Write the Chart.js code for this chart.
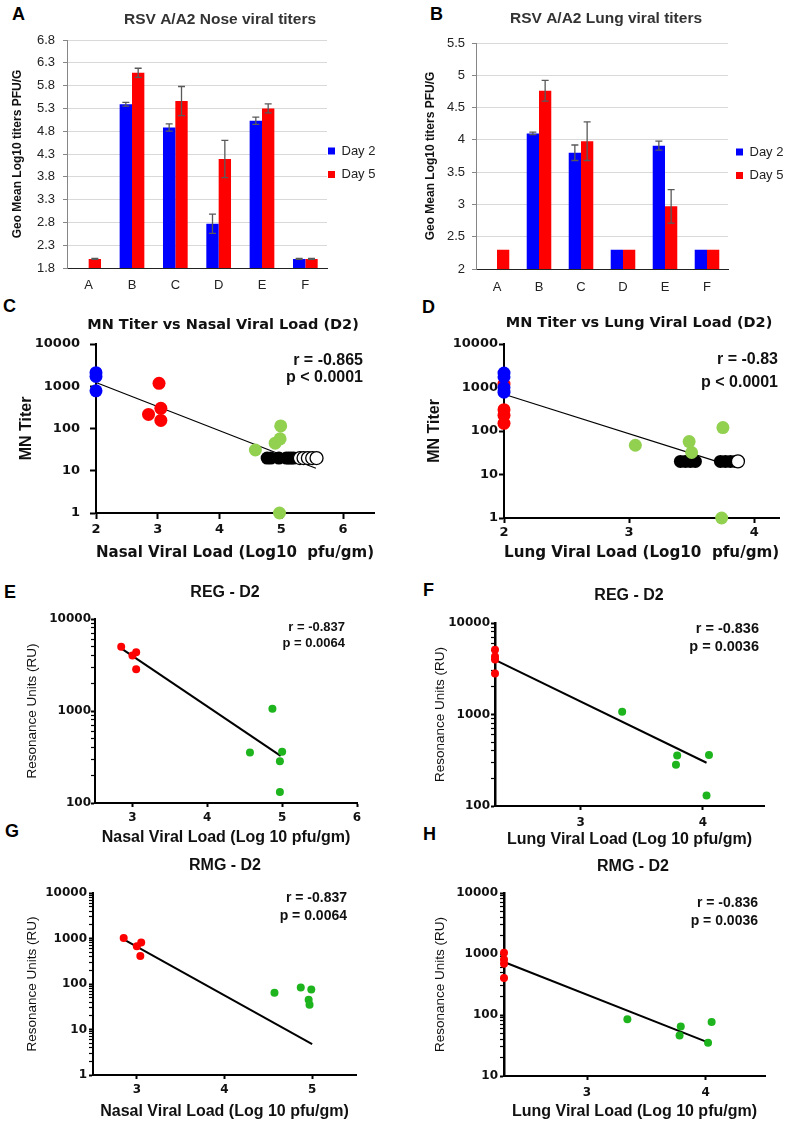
<!DOCTYPE html>
<html>
<head>
<meta charset="utf-8">
<script src="https://cdn.jsdelivr.net/npm/chart.js@4.4.0/dist/chart.umd.min.js"></script>
<style>
  body { margin: 0; background: #fff; width: 787px; height: 1122px; position: relative; overflow: hidden; }
  canvas { position: absolute; }
  .lbl { position: absolute; font: bold 18px "Liberation Sans", Arial, sans-serif; line-height: 1; color: #000; }
</style>
</head>
<body>
<div class="lbl" style="left:12px;top:5px">A</div>
<div class="lbl" style="left:430px;top:5px">B</div>
<div class="lbl" style="left:3px;top:297px">C</div>
<div class="lbl" style="left:422px;top:298px">D</div>
<div class="lbl" style="left:4px;top:583px">E</div>
<div class="lbl" style="left:423px;top:581px">F</div>
<div class="lbl" style="left:5px;top:822px">G</div>
<div class="lbl" style="left:423px;top:825px">H</div>

<canvas id="cA"></canvas>
<canvas id="cB"></canvas>
<canvas id="cC"></canvas>
<canvas id="cD"></canvas>
<canvas id="cE"></canvas>
<canvas id="cF"></canvas>
<canvas id="cG"></canvas>
<canvas id="cH"></canvas>

<script>
// ---- bar panels (A, B) ----
const groups = ['A', 'B', 'C', 'D', 'E', 'F'];
const noseDay2 = [null, 5.39, 4.88, 2.77, 5.03, 2.0];
const noseDay5 = [2.0, 6.08, 5.46, 4.19, 5.3, 2.0];
const noseDay2Err = [0, 0.04, 0.08, 0.21, 0.08, 0.01];
const noseDay5Err = [0.01, 0.1, 0.32, 0.41, 0.1, 0.01];
const lungDay2 = [null, 4.1, 3.8, 2.3, 3.91, 2.3];
const lungDay5 = [2.3, 4.76, 3.98, 2.3, 2.97, 2.3];
const lungDay2Err = [0, 0.02, 0.12, 0, 0.07, 0];
const lungDay5Err = [0, 0.16, 0.3, 0, 0.26, 0];

// ---- C: MN titer vs nasal viral load ----
const cBlueX = [2, 2, 2];
const cBlueY = [2100, 1700, 780];
const cRedX = [2.85, 3.02, 3.05, 3.05];
const cRedY = [215, 1170, 300, 155];
const cGreenX = [4.58, 4.9, 4.98, 4.99, 4.97];
const cGreenY = [31, 45, 57, 115, 1];
const cBlackX = [4.77, 4.83, 4.96, 5.08, 5.12, 5.16, 5.2];
const cBlackY = [20, 20, 20, 20, 20, 20, 20];
const cOpenX = [5.3, 5.36, 5.43, 5.5, 5.57];
const cOpenY = [20, 20, 20, 20, 20];
const cFitX = [2, 5.56];
const cFitY = [1230, 11.5];

// ---- D: MN titer vs lung viral load ----
const dBlueX = [2, 2, 2, 2];
const dBlueY = [2150, 1750, 1000, 780];
const dRedX = [2, 2, 2, 2];
const dRedY = [1200, 310, 230, 150];
const dGreenX = [3.05, 3.48, 3.5, 3.75, 3.74];
const dGreenY = [47, 57, 32, 120, 1];
const dBlackX = [3.41, 3.45, 3.49, 3.53, 3.73, 3.77, 3.81, 3.85];
const dBlackY = [20, 20, 20, 20, 20, 20, 20, 20];
const dOpenX = [3.87];
const dOpenY = [20];
const dFitX = [2, 3.75];
const dFitY = [700, 18];

// ---- E/F: REG - D2 ----
const eRedX = [2.85, 3.0, 3.05, 3.05];
const eRedY = [5000, 4000, 4350, 2850];
const eGreenX = [4.57, 4.87, 4.97, 5.0, 4.97];
const eGreenY = [355, 1060, 285, 360, 132];
const eFitX = [2.85, 4.98];
const eFitY = [4800, 325];

const fRedX = [2.3, 2.3, 2.3, 2.3];
const fRedY = [5100, 4300, 4000, 2800];
const fGreenX = [3.34, 3.79, 3.78, 4.05, 4.03];
const fGreenY = [1070, 356, 283, 360, 130];
const fFitX = [2.3, 4.03];
const fFitY = [3950, 297];

// ---- G/H: RMG - D2 ----
const gRedX = [2.85, 3.0, 3.05, 3.04];
const gRedY = [1030, 675, 815, 410];
const gGreenX = [4.57, 4.87, 4.99, 4.96, 4.97];
const gGreenY = [64, 84, 76, 45, 35];
const gFitX = [2.85, 5.0];
const gFitY = [960, 4.8];

const hRedX = [2.3, 2.3, 2.3, 2.3];
const hRedY = [1050, 810, 690, 405];
const hGreenX = [3.34, 3.79, 3.78, 4.05, 4.02];
const hGreenY = [85, 65, 46, 77, 35];
const hFitX = [2.3, 4.03];
const hFitY = [740, 35];

// tick values
const ticksC = [1, 10, 100, 1000, 10000];
const ticksE = [100, 1000, 10000];
const ticksH = [10, 100, 1000, 10000];
const xTicksC = [2, 3, 4, 5, 6];
const xTicksD = [2, 3, 4];
const xTicksE = [3, 4, 5, 6];
const xTicksF = [3, 4];
const xTicksG = [3, 4, 5];

const ARIAL = '"Liberation Sans", Arial, sans-serif';
const DEJAVU = '"DejaVu Sans", sans-serif';
const BLUE = '#0000ff', RED = '#ff0000';
const LGREEN = '#92d050', GREEN = '#1db41d';

// moves the title / legend to where the original has them
const nudge = {
  id: 'nudge',
  beforeLayout(chart, args, o) {
    const lg = chart.legend;
    if (lg && o.legendW && !lg._fixedW) {
      const fit = lg.fit;
      lg.fit = function () { fit.call(this); this.width = o.legendW; };
      lg._fixedW = true;
    }
  },
  afterLayout(chart, args, o) {
    const t = chart.titleBlock;
    if (t && o.titleX != null) {
      const dx = o.titleX - (t.left + t.right) / 2;
      t.left += dx; t.right += dx;
    }
    const lg = chart.legend;
    if (lg && o.legendX != null) {
      const p = lg.options.labels.padding;
      const h = lg.bottom - lg.top;
      lg.left = o.legendX - p; lg.right = lg.left + 90;
      lg.top = o.legendY - p; lg.bottom = lg.top + h;
    }
  }
};

const errorBars = {
  id: 'errorBars',
  afterDatasetsDraw(chart, args, o) {
    if (!o.errors) return;
    const ctx = chart.ctx, y = chart.scales.y;
    ctx.save();
    ctx.strokeStyle = '#595959';
    ctx.lineWidth = 1.3;
    o.errors.forEach((errs, di) => {
      const meta = chart.getDatasetMeta(di);
      meta.data.forEach((bar, i) => {
        const v = chart.data.datasets[di].data[i];
        const e = errs[i];
        if (v == null || !e) return;
        const y1 = y.getPixelForValue(v + e), y2 = y.getPixelForValue(v - e);
        ctx.beginPath();
        ctx.moveTo(bar.x, y1); ctx.lineTo(bar.x, y2);
        ctx.moveTo(bar.x - 3.5, y1); ctx.lineTo(bar.x + 3.5, y1);
        ctx.moveTo(bar.x - 3.5, y2); ctx.lineTo(bar.x + 3.5, y2);
        ctx.stroke();
      });
    });
    ctx.restore();
  }
};

const statText = {
  id: 'statText',
  afterDraw(chart, args, o) {
    if (!o.lines) return;
    const ctx = chart.ctx;
    ctx.save();
    ctx.font = o.font;
    ctx.fillStyle = o.color || '#111';
    ctx.textAlign = 'right';
    ctx.textBaseline = 'middle';
    o.lines.forEach((t, i) => ctx.fillText(t, o.x, o.y[i]));
    ctx.restore();
  }
};

Chart.register(nudge, errorBars, statText);

function place(id, box) {
  const c = document.getElementById(id);
  c.width = box.w;
  c.height = box.h;
  c.style.left = box.x + 'px';
  c.style.top = box.y + 'px';
  return c;
}

function pts(xs, ys) {
  return xs.map((x, i) => ({ x: x, y: ys[i] }));
}

// decade ticks plus the 2..9 minor ticks in between
function logTicks(min, max, withMinor) {
  const out = [];
  for (let d = min; d <= max; d *= 10) {
    out.push(d);
    if (withMinor && d < max) for (let k = 2; k <= 9; k++) out.push(d * k);
  }
  return out;
}

function barPanel(id, s) {
  const b = s.box, a = s.area;
  const tl = s.titleSize * 1.2;
  new Chart(place(id, b), {
    type: 'bar',
    data: {
      labels: groups,
      datasets: [
        { label: 'Day 2', data: s.d2, backgroundColor: BLUE },
        { label: 'Day 5', data: s.d5, backgroundColor: RED }
      ]
    },
    options: {
      responsive: false,
      animation: false,
      layout: { padding: { left: 0, top: 0, bottom: 0, right: b.x + b.w - a.r - 50 } },
      datasets: { bar: { categoryPercentage: s.cat, barPercentage: 1 } },
      plugins: {
        tooltip: { enabled: false },
        title: {
          display: true, text: s.title, color: '#333',
          font: { family: ARIAL, size: s.titleSize, weight: 'bold' },
          padding: { top: s.titleY - b.y - tl / 2, bottom: a.t - s.titleY - tl / 2 }
        },
        legend: {
          position: 'right', align: 'start',
          labels: { boxWidth: 7, boxHeight: 7, padding: 10.5, color: '#222', textAlign: 'left',
                    font: { family: ARIAL, size: 13 } }
        },
        nudge: { titleX: s.titleX - b.x, legendW: 50, legendX: s.legX - b.x, legendY: s.legY - b.y - 6.5 },
        errorBars: { errors: [s.e2, s.e5] }
      },
      scales: {
        x: {
          grid: { display: false, drawTicks: false },
          border: { color: '#222', width: 1 },
          ticks: { color: '#222', font: { family: ARIAL, size: 13 }, padding: s.xLabY - a.b - 7.8 },
          afterFit: sc => { sc.height = b.y + b.h - a.b; sc.paddingLeft = 0; sc.paddingRight = 0; }
        },
        y: {
          min: s.min, max: s.max,
          grid: { color: '#d9d9d9', tickLength: 4, tickColor: '#868686' },
          border: { color: '#868686', width: 1 },
          ticks: { stepSize: 0.5, color: '#222', font: { family: ARIAL, size: 13 },
                   padding: a.l - b.x - 4 - (s.yLabR - b.x), callback: s.fmt },
          title: { display: true, text: 'Geo Mean Log10 titers PFU/G', color: '#111',
                   font: { family: ARIAL, size: 12, weight: 'bold' },
                   padding: { top: s.yTitleX - b.x - 7.2, bottom: 0 } },
          afterFit: sc => { sc.width = a.l - b.x; sc.paddingTop = 0; sc.paddingBottom = 0; }
        }
      }
    }
  });
}

function scatterPanel(id, s) {
  const b = s.box, a = s.area;
  const tl = s.titleFont.size * 1.2;
  const yl = s.yTitleFont.size * 1.2;
  const xl = s.xTitleFont.size * 1.2;
  const kl = s.tickFont.size * 1.2;
  const yMarks = logTicks(s.yMin, s.yMax, s.minor);
  new Chart(place(id, b), {
    type: 'scatter',
    data: { datasets: s.datasets },
    options: {
      responsive: false,
      animation: false,
      layout: { padding: { left: 0, top: 0, bottom: 0, right: b.x + b.w - a.r } },
      plugins: {
        legend: { display: false },
        tooltip: { enabled: false },
        title: {
          display: true, text: s.title, color: '#111', font: s.titleFont,
          padding: { top: s.titleY - b.y - tl / 2, bottom: a.t - s.titleY - tl / 2 }
        },
        nudge: { titleX: s.titleX - b.x },
        statText: { lines: s.stats, font: s.statFont, x: s.statX - b.x, y: s.statY.map(v => v - b.y) }
      },
      scales: {
        x: {
          type: 'linear', min: s.xMin, max: s.xMax,
          afterBuildTicks: sc => { sc.ticks = s.xTicks.map(v => ({ value: v })); },
          afterFit: sc => { sc.height = b.y + b.h - a.b; sc.paddingLeft = 0; sc.paddingRight = 0; },
          border: { color: '#000', width: 2 },
          grid: { display: true, drawOnChartArea: false, tickLength: s.tick, tickColor: '#000', tickWidth: 2 },
          ticks: { color: '#111', font: s.tickFont, padding: s.xLabY - a.b - s.tick - kl / 2,
                   maxRotation: 0, autoSkip: false, callback: v => String(v) },
          title: { display: true, text: s.xTitle, color: '#111', font: s.xTitleFont,
                   padding: { top: 0, bottom: b.y + b.h - s.xTitleY - xl / 2 } }
        },
        y: {
          type: 'logarithmic', min: s.yMin, max: s.yMax,
          afterBuildTicks: sc => { sc.ticks = yMarks.map(v => ({ value: v })); },
          afterFit: sc => { sc.width = a.l - b.x; sc.paddingTop = 0; sc.paddingBottom = 0; },
          border: { color: '#000', width: s.yBorder || 2 },
          grid: { display: true, drawOnChartArea: false, tickLength: s.tick, tickColor: '#000',
                  tickWidth: c => (s.yTicks.includes(c.tick.value) ? 2 : 1.2) },
          ticks: { color: '#111', font: s.tickFont, padding: a.l - s.tick - s.yLabR,
                   autoSkip: false, callback: v => (s.yTicks.includes(v) ? String(v) : '') },
          title: { display: true, text: s.yTitle, color: '#111', font: s.yTitleFont,
                   padding: { top: s.yTitleX - b.x - yl / 2, bottom: 0 } }
        }
      }
    }
  });
}

function dots(xs, ys, color, r, order) {
  return { data: pts(xs, ys), backgroundColor: color, borderColor: color, borderWidth: 0,
           pointRadius: r, pointHoverRadius: r, clip: false, order: order };
}
function openDots(xs, ys, r) {
  return { data: pts(xs, ys), backgroundColor: '#fff', borderColor: '#000', borderWidth: 1.3,
           pointRadius: r, pointHoverRadius: r, clip: false, order: 3 };
}
function fitLine(xs, ys, w) {
  return { data: pts(xs, ys), showLine: true, pointRadius: 0, borderColor: '#000',
           borderWidth: w, clip: false, order: 9 };
}

const oneDec = v => v.toFixed(1);
const trim = v => String(+v.toFixed(2));

barPanel('cA', {
  box: { x: 0, y: 0, w: 393, h: 298 }, area: { l: 67, r: 327, t: 40, b: 268 },
  title: 'RSV A/A2 Nose viral titers', titleSize: 15.5, titleX: 220, titleY: 20,
  d2: noseDay2, d5: noseDay5, e2: noseDay2Err, e5: noseDay5Err,
  min: 1.8, max: 6.8, fmt: oneDec, cat: 0.57,
  yLabR: 55, yTitleX: 18, xLabY: 285, legX: 328, legY: 151
});

barPanel('cB', {
  box: { x: 393, y: 0, w: 400, h: 298 }, area: { l: 476, r: 728, t: 43, b: 269 },
  title: 'RSV A/A2 Lung viral titers', titleSize: 15.5, titleX: 606, titleY: 19,
  d2: lungDay2, d5: lungDay5, e2: lungDay2Err, e5: lungDay5Err,
  min: 2, max: 5.5, fmt: trim, cat: 0.585,
  yLabR: 465, yTitleX: 431, xLabY: 287, legX: 736, legY: 152
});

scatterPanel('cC', {
  box: { x: 0, y: 298, w: 393, h: 270 }, area: { l: 96, r: 374, t: 344, b: 513 },
  title: 'MN Titer vs Nasal Viral Load (D2)', titleX: 223, titleY: 325,
  titleFont: { family: DEJAVU, size: 14.5, weight: 'bold' },
  stats: ['r = -0.865', 'p < 0.0001'], statFont: 'bold 16px ' + ARIAL, statX: 363, statY: [361, 378],
  xMin: 2, xMax: 6.5, xTicks: xTicksC, yMin: 1, yMax: 10000, yTicks: ticksC, minor: false,
  tick: 6, tickFont: { family: DEJAVU, size: 13, weight: 'bold' }, yLabR: 80, xLabY: 530,
  yTitle: 'MN Titer', yTitleFont: { family: ARIAL, size: 16, weight: 'bold' }, yTitleX: 27,
  xTitle: 'Nasal Viral Load (Log10  pfu/gm)', xTitleFont: { family: DEJAVU, size: 16, weight: 'bold' }, xTitleY: 553,
  datasets: [
    dots(cBlueX, cBlueY, BLUE, 6.5, 0),
    dots(cRedX, cRedY, RED, 6.5, 1),
    dots(cGreenX, cGreenY, LGREEN, 6.5, 2),
    dots(cBlackX, cBlackY, '#000', 6.5, 4),
    openDots(cOpenX, cOpenY, 6.5),
    fitLine(cFitX, cFitY, 1.2)
  ]
});

scatterPanel('cD', {
  box: { x: 393, y: 298, w: 394, h: 270 }, area: { l: 504, r: 783, t: 344, b: 518 },
  title: 'MN Titer vs Lung Viral Load (D2)', titleX: 639, titleY: 323,
  titleFont: { family: DEJAVU, size: 14.5, weight: 'bold' },
  stats: ['r = -0.83', 'p < 0.0001'], statFont: 'bold 16px ' + ARIAL, statX: 778, statY: [360, 383],
  xMin: 2, xMax: 4.2, xTicks: xTicksD, yMin: 1, yMax: 10000, yTicks: ticksC, minor: false,
  tick: 5, tickFont: { family: DEJAVU, size: 13, weight: 'bold' }, yLabR: 498, xLabY: 533,
  yTitle: 'MN Titer', yTitleFont: { family: ARIAL, size: 16, weight: 'bold' }, yTitleX: 435,
  xTitle: 'Lung Viral Load (Log10  pfu/gm)', xTitleFont: { family: DEJAVU, size: 16, weight: 'bold' }, xTitleY: 553,
  datasets: [
    dots(dBlueX, dBlueY, BLUE, 6.5, 0),
    dots(dRedX, dRedY, RED, 6.5, 1),
    dots(dGreenX, dGreenY, LGREEN, 6.5, 2),
    dots(dBlackX, dBlackY, '#000', 6.5, 4),
    openDots(dOpenX, dOpenY, 6.5),
    fitLine(dFitX, dFitY, 1.2)
  ]
});

const ruTitle = 'Resonance Units (RU)';
const ruFont = { family: ARIAL, size: 13.5 };
const smallTick = { family: DEJAVU, size: 12, weight: 'bold' };
const loadFont = { family: ARIAL, size: 16, weight: 'bold' };

scatterPanel('cE', {
  box: { x: 0, y: 568, w: 393, h: 282 }, area: { l: 95, r: 357, t: 619, b: 803 },
  title: 'REG - D2', titleX: 225, titleY: 593, titleFont: { family: ARIAL, size: 16 },
  stats: ['r = -0.837', 'p = 0.0064'], statFont: 'bold 13px ' + ARIAL, statX: 345, statY: [627, 643],
  xMin: 2.5, xMax: 6, xTicks: xTicksE, yMin: 100, yMax: 10000, yTicks: ticksE, minor: true,
  tick: 4, tickFont: smallTick, yLabR: 91, xLabY: 818,
  yTitle: ruTitle, yTitleFont: ruFont, yTitleX: 32,
  xTitle: 'Nasal Viral Load (Log 10 pfu/gm)', xTitleFont: loadFont, xTitleY: 838,
  datasets: [
    dots(eRedX, eRedY, RED, 4, 0),
    dots(eGreenX, eGreenY, GREEN, 4, 1),
    fitLine(eFitX, eFitY, 2)
  ]
});

scatterPanel('cF', {
  box: { x: 393, y: 568, w: 394, h: 282 }, area: { l: 495, r: 764, t: 623, b: 806 },
  title: 'REG - D2', titleX: 629, titleY: 596, titleFont: { family: ARIAL, size: 16 },
  stats: ['r = -0.836', 'p = 0.0036'], statFont: 'bold 14.5px ' + ARIAL, statX: 759, statY: [629, 647],
  xMin: 2.3, xMax: 4.5, xTicks: xTicksF, yMin: 100, yMax: 10000, yTicks: ticksE, minor: true, yBorder: 2.5,
  tick: 4, tickFont: smallTick, yLabR: 490, xLabY: 823,
  yTitle: ruTitle, yTitleFont: ruFont, yTitleX: 440,
  xTitle: 'Lung Viral Load (Log 10 pfu/gm)', xTitleFont: loadFont, xTitleY: 840,
  datasets: [
    dots(fRedX, fRedY, RED, 4, 0),
    dots(fGreenX, fGreenY, GREEN, 4, 1),
    fitLine(fFitX, fFitY, 2)
  ]
});

scatterPanel('cG', {
  box: { x: 0, y: 852, w: 393, h: 270 }, area: { l: 93, r: 356, t: 893, b: 1075 },
  title: 'RMG - D2', titleX: 225, titleY: 866, titleFont: { family: ARIAL, size: 16, weight: 'bold' },
  stats: ['r = -0.837', 'p = 0.0064'], statFont: 'bold 14px ' + ARIAL, statX: 347, statY: [898, 916],
  xMin: 2.5, xMax: 5.5, xTicks: xTicksG, yMin: 1, yMax: 10000, yTicks: ticksC, minor: true,
  tick: 4, tickFont: smallTick, yLabR: 87, xLabY: 1090,
  yTitle: ruTitle, yTitleFont: ruFont, yTitleX: 32,
  xTitle: 'Nasal Viral Load (Log 10 pfu/gm)', xTitleFont: loadFont, xTitleY: 1112,
  datasets: [
    dots(gRedX, gRedY, RED, 4, 0),
    dots(gGreenX, gGreenY, GREEN, 4, 1),
    fitLine(gFitX, gFitY, 2)
  ]
});

scatterPanel('cH', {
  box: { x: 393, y: 852, w: 394, h: 270 }, area: { l: 504, r: 765, t: 893, b: 1076 },
  title: 'RMG - D2', titleX: 633, titleY: 867, titleFont: { family: ARIAL, size: 16, weight: 'bold' },
  stats: ['r = -0.836', 'p = 0.0036'], statFont: 'bold 14px ' + ARIAL, statX: 758, statY: [903, 921],
  xMin: 2.3, xMax: 4.5, xTicks: xTicksF, yMin: 10, yMax: 10000, yTicks: ticksH, minor: true, yBorder: 2.5,
  tick: 4, tickFont: smallTick, yLabR: 498, xLabY: 1093,
  yTitle: ruTitle, yTitleFont: ruFont, yTitleX: 440,
  xTitle: 'Lung Viral Load (Log 10 pfu/gm)', xTitleFont: loadFont, xTitleY: 1112,
  datasets: [
    dots(hRedX, hRedY, RED, 4, 0),
    dots(hGreenX, hGreenY, GREEN, 4, 1),
    fitLine(hFitX, hFitY, 2)
  ]
});
</script>
</body>
</html>
